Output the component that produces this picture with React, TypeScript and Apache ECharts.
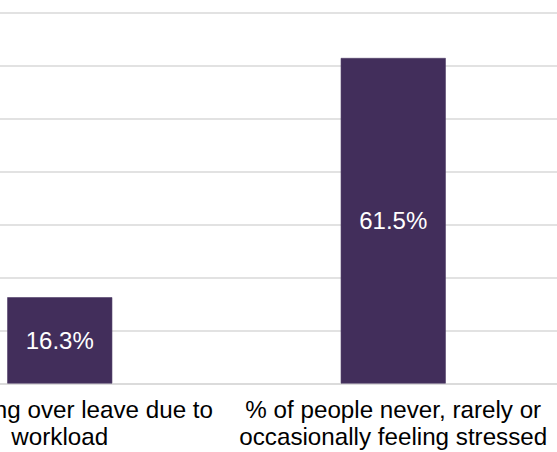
import React, { useEffect, useRef } from "react";
import * as echarts from "echarts";

const categories = [
  "% carrying over leave due to\nworkload",
  "% of people never, rarely or\noccasionally feeling stressed",
];
const values = [16.3, 61.5];
const valueLabels = ["16.3%", "61.5%"];

export default function App() {
  const ref = useRef<HTMLDivElement>(null);
  useEffect(() => {
    if (!ref.current) return;
    const chart = echarts.init(ref.current, null, { renderer: "svg" });
    chart.setOption({
      animation: false,
      grid: { left: 93, width: 667, top: 13, bottom: 68.5, containLabel: false },
      xAxis: {
        type: "category",
        data: categories,
        axisLine: { lineStyle: { color: "#d9d9d9", width: 1.5 } },
        axisTick: { show: false },
        axisLabel: {
          interval: 0,
          color: "#000000",
          fontFamily: "Liberation Sans",
          fontSize: 24.2,
          lineHeight: 26.5,
          margin: 13,
        },
      },
      yAxis: {
        type: "value",
        min: 0,
        max: 70,
        interval: 10,
        axisLabel: { show: false },
        axisLine: { show: false },
        axisTick: { show: false },
        splitLine: { lineStyle: { color: "#d9d9d9", width: 1.5 } },
      },
      series: [
        {
          type: "bar",
          data: values,
          barWidth: "31.5%",
          itemStyle: { color: "#422e5b", borderColor: "#4f3d67", borderWidth: 0.6 },
          label: {
            show: true,
            position: "inside",
            color: "#ffffff",
            fontFamily: "Liberation Sans",
            fontSize: 24,
            formatter: (p: any) => valueLabels[p.dataIndex],
          },
        },
      ],
    });
    return () => chart.dispose();
  }, []);
  return (
    <div
      style={{
        position: "fixed",
        left: 0,
        top: 0,
        width: 557,
        height: 452,
        overflow: "hidden",
        background: "#ffffff",
      }}
    >
      <div
        ref={ref}
        style={{ position: "absolute", left: -200, top: 0, width: 800, height: 452 }}
      />
    </div>
  );
}
